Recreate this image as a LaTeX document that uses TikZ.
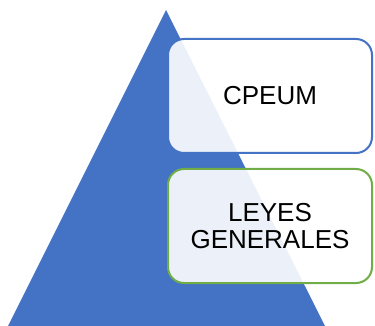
\documentclass[tikz,border=0pt]{standalone}
\usepackage{fontspec}
\setmainfont{Liberation Sans}
\definecolor{pyblue}{HTML}{4472C4}
\definecolor{pygreen}{HTML}{70AD47}
\begin{document}
\begin{tikzpicture}[x=1pt,y=-1pt,
  levelbox/.style={draw, line width=2pt, fill=white, fill opacity=0.9, text opacity=1,
    rounded corners=16pt, minimum width=204pt, minimum height=114pt, inner sep=0pt,
    align=center, font=\fontsize{26}{27}\selectfont}]
\useasboundingbox (0,0) rectangle (375,326);
\fill[pyblue] (166,10) -- (325,326) -- (8,326) -- cycle;
\node[levelbox, draw=pyblue] (a) at (270,96) {CPEUM};
\node[levelbox, draw=pygreen] (b) at (270,226) {LEYES\\GENERALES};
\end{tikzpicture}
\end{document}
